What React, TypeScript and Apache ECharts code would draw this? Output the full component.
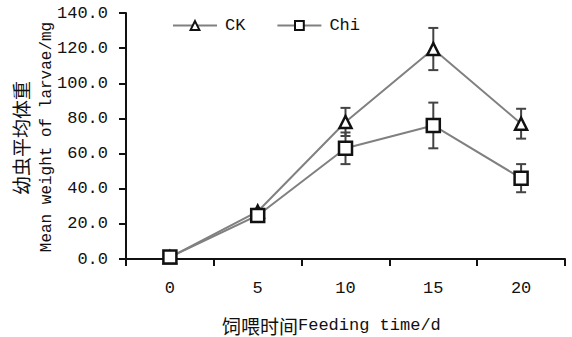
import React, { useEffect, useRef } from "react";
import * as echarts from "echarts";

const days = ["0", "5", "10", "15", "20"];
const ckMean = [1.0, 27.0, 78.0, 119.5, 77.0];
const ckErr = [0.5, 1.5, 8.0, 12.0, 8.5];
const chiMean = [1.1, 24.8, 63.0, 76.0, 46.0];
const chiErr = [0.5, 1.5, 9.0, 13.0, 8.0];
const yTitleCn = "幼虫平均体重";
const yTitleEn = "Mean weight of larvae/mg";
const xTitleCn = "饲喂时间";
const xTitleEn = "Feeding time/d";

export default function App() {
  const ref = useRef<HTMLDivElement>(null);
  useEffect(() => {
    if (!ref.current) return;
    const chart = echarts.init(ref.current, null, { renderer: "svg" });
    const errData = (mean: number[], err: number[]) =>
      mean.map((m, i) => [i, m - err[i], m + err[i]]);
    const renderErr = (params: any, api: any) => {
      const i = api.value(0);
      const lo = api.coord([i, api.value(1)]);
      const hi = api.coord([i, api.value(2)]);
      const w = 5;
      const style = { stroke: "#444", lineWidth: 2 };
      return {
        type: "group",
        children: [
          { type: "line", shape: { x1: lo[0], y1: lo[1], x2: hi[0], y2: hi[1] }, style },
          { type: "line", shape: { x1: lo[0] - w, y1: lo[1], x2: lo[0] + w, y2: lo[1] }, style },
          { type: "line", shape: { x1: hi[0] - w, y1: hi[1], x2: hi[0] + w, y2: hi[1] }, style },
        ],
      };
    };
    const monoFont = "Liberation Mono";
    chart.setOption({
      animation: false,
      backgroundColor: "#fff",
      grid: { left: 126, right: 7, top: 13, bottom: 78 },
      legend: {
        left: 172,
        top: 17,
        padding: 0,
        itemWidth: 44,
        itemHeight: 11,
        itemGap: 31,
        textStyle: { fontFamily: monoFont, fontSize: 17, color: "#111", padding: [0, 0, 0, 3] },
        data: ["CK", "Chi"],
      },
      xAxis: {
        type: "category",
        data: days,
        boundaryGap: true,
        axisLine: { lineStyle: { color: "#111", width: 2 } },
        axisTick: { show: true, length: 7, lineStyle: { color: "#111", width: 2 } },
        axisLabel: { fontFamily: monoFont, fontSize: 17, color: "#111", margin: 21 },
      },
      yAxis: {
        type: "value",
        min: 0,
        max: 140,
        interval: 20,
        axisLine: { show: true, lineStyle: { color: "#111", width: 2 } },
        axisTick: { show: true, length: 7, lineStyle: { color: "#111", width: 2 } },
        splitLine: { show: false },
        axisLabel: {
          fontFamily: monoFont,
          fontSize: 17,
          color: "#111",
          margin: 18,
          formatter: (v: number) => v.toFixed(1),
        },
      },
      graphic: [
        {
          type: "text",
          x: 20,
          y: 138,
          rotation: Math.PI / 2,
          style: {
            text: yTitleCn,
            font: '19px "Noto Sans CJK SC"',
            fill: "#111",
            textAlign: "center",
            textVerticalAlign: "middle",
          },
        },
        {
          type: "text",
          x: 47,
          y: 137,
          rotation: Math.PI / 2,
          style: {
            text: yTitleEn,
            font: '16px "Liberation Mono"',
            fill: "#111",
            textAlign: "center",
            textVerticalAlign: "middle",
          },
        },
        {
          type: "text",
          x: 222,
          y: 314,
          style: {
            text: "{cn|" + xTitleCn + "}{en|" + xTitleEn + "}",
            rich: {
              cn: { fontFamily: "Noto Sans CJK SC", fontSize: 19, fill: "#111", lineHeight: 22 },
              en: { fontFamily: monoFont, fontSize: 17, fill: "#111", lineHeight: 22 },
            },
          },
        },
      ],
      series: [
        {
          name: "CKerr",
          type: "custom",
          renderItem: renderErr,
          data: errData(ckMean, ckErr),
          z: 1,
          silent: true,
        },
        {
          name: "Chierr",
          type: "custom",
          renderItem: renderErr,
          data: errData(chiMean, chiErr),
          z: 1,
          silent: true,
        },
        {
          name: "CK",
          type: "line",
          data: ckMean,
          symbol: "triangle",
          symbolSize: 12,
          z: 3,
          lineStyle: { color: "#808080", width: 2 },
          itemStyle: { color: "#fff", borderColor: "#111", borderWidth: 2.5 },
        },
        {
          name: "Chi",
          type: "line",
          data: chiMean,
          symbol: "rect",
          symbolSize: 13,
          z: 3,
          lineStyle: { color: "#808080", width: 2 },
          itemStyle: { color: "#fff", borderColor: "#111", borderWidth: 2.5 },
        },
      ],
    });
    return () => chart.dispose();
  }, []);
  return (
    <div
      ref={ref}
      style={{ position: "absolute", left: 0, top: 0, width: 572, height: 337 }}
    />
  );
}
